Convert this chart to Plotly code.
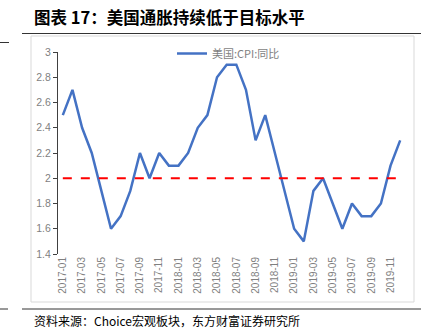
import plotly.graph_objects as go

months = [f"{y}-{m:02d}" for y in (2017, 2018, 2019) for m in range(1, 13)]
cpi = [2.5, 2.7, 2.4, 2.2, 1.9, 1.6, 1.7, 1.9, 2.2, 2.0, 2.2, 2.1,
       2.1, 2.2, 2.4, 2.5, 2.8, 2.9, 2.9, 2.7, 2.3, 2.5, 2.2, 1.9,
       1.6, 1.5, 1.9, 2.0, 1.8, 1.6, 1.8, 1.7, 1.7, 1.8, 2.1, 2.3]
target = 2.0
tick_labels = months[::2]
y_ticks = [1.4, 1.6, 1.8, 2.0, 2.2, 2.4, 2.6, 2.8, 3.0]
y_tick_text = ["1.4", "1.6", "1.8", "2", "2.2", "2.4", "2.6", "2.8", "3"]
title_text = "图表 17：美国通胀持续低于目标水平"
source_text = "资料来源：Choice宏观板块，东方财富证券研究所"
series_name = "美国:CPI:同比"

W, H = 430, 336
L, R, T, B = 58, 25, 52, 82
pw, ph = W - L - R, H - T - B

def px_x(px):
    return (px - L) / pw

def px_y(py):
    return (H - B - py) / ph

fig = go.Figure()
fig.add_trace(go.Scatter(
    x=months, y=cpi, mode="lines", name=series_name,
    line=dict(color="#4472C4", width=2.5),
))
fig.add_trace(go.Scatter(
    x=months, y=[target] * len(months), mode="lines", showlegend=False,
    line=dict(color="#FF0000", width=2, dash="dash"),
    hoverinfo="skip",
))

shapes = [
    dict(type="rect", xref="paper", yref="paper",
         x0=px_x(31), x1=px_x(414), y0=px_y(302), y1=px_y(36),
         line=dict(color="#D9D9D9", width=1), layer="below"),
    dict(type="line", xref="paper", yref="paper",
         x0=px_x(22), x1=px_x(421), y0=px_y(33.5), y1=px_y(33.5),
         line=dict(color="#333333", width=1)),
    dict(type="line", xref="paper", yref="paper",
         x0=px_x(22), x1=px_x(421), y0=px_y(309), y1=px_y(309),
         line=dict(color="#333333", width=1)),
    dict(type="line", xref="paper", yref="paper",
         x0=px_x(0), x1=px_x(9), y0=px_y(42.5), y1=px_y(42.5),
         line=dict(color="#333333", width=1)),
    dict(type="line", xref="paper", yref="paper",
         x0=px_x(0), x1=px_x(8), y0=px_y(309), y1=px_y(309),
         line=dict(color="#333333", width=1)),
]

fig.update_layout(
    width=W, height=H,
    margin=dict(l=L, r=R, t=T, b=B),
    paper_bgcolor="white", plot_bgcolor="white",
    shapes=shapes,
    showlegend=True,
    legend=dict(x=px_x(172), y=px_y(39), xanchor="left", yanchor="top",
                bgcolor="rgba(0,0,0,0)",
                font=dict(family="Noto Sans CJK SC", size=11, color="#7F7F7F")),
    annotations=[
        dict(text=f"<b>{title_text}</b>", xref="paper", yref="paper",
             x=px_x(32), y=px_y(17), xanchor="left", yanchor="middle",
             showarrow=False,
             font=dict(family="Noto Sans CJK SC", size=16.5, color="#000000")),
        dict(text=source_text, xref="paper", yref="paper",
             x=px_x(32), y=px_y(320), xanchor="left", yanchor="middle",
             showarrow=False,
             font=dict(family="Noto Sans CJK SC", size=12, color="#000000")),
    ],
    xaxis=dict(
        type="category", range=[-0.5, len(months) - 0.5],
        tickvals=tick_labels, ticktext=tick_labels, tickangle=-90,
        showgrid=False, showline=False, zeroline=False, ticks="",
        tickfont=dict(family="Liberation Sans", size=10, color="#7F7F7F"),
    ),
    yaxis=dict(
        range=[1.4, 3.0], tickvals=y_ticks, ticktext=y_tick_text,
        showgrid=False, zeroline=False, showline=True,
        linecolor="#404040", linewidth=1, ticks="outside", ticklen=4,
        tickcolor="#404040",
        tickfont=dict(family="Liberation Sans", size=10.5, color="#7F7F7F"),
    ),
)

fig.write_html("out.html")
